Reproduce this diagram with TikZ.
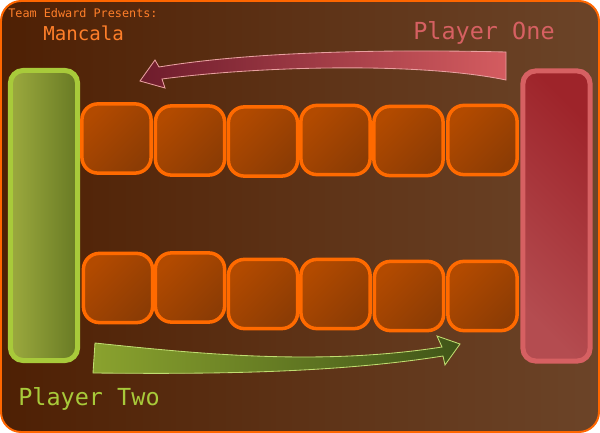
\documentclass[tikz,border=0pt]{standalone}
\usepackage{fontspec}
\newfontfamily\monofont{DejaVu Sans Mono}
\usepackage{tikz}
\usetikzlibrary{positioning}
\usetikzlibrary{calc}

\definecolor{boardleft}{RGB}{78,32,4}
\definecolor{boardright}{RGB}{108,68,40}
\definecolor{boardedge}{RGB}{255,102,0}
\definecolor{pitedge}{RGB}{255,106,0}
\definecolor{pitlight}{RGB}{178,74,0}
\definecolor{pitdark}{RGB}{140,60,4}
\definecolor{greenedge}{RGB}{168,202,58}
\definecolor{greenlight}{RGB}{156,170,62}
\definecolor{greendark}{RGB}{104,122,36}
\definecolor{rededge}{RGB}{214,96,98}
\definecolor{redlight}{RGB}{180,76,80}
\definecolor{reddark}{RGB}{158,36,42}
\definecolor{titleorange}{RGB}{255,127,42}
\definecolor{redarrowleft}{RGB}{110,28,44}
\definecolor{redarrowright}{RGB}{212,92,96}
\definecolor{redarrowedge}{RGB}{232,160,160}
\definecolor{greenarrowleft}{RGB}{138,162,46}
\definecolor{greenarrowright}{RGB}{64,85,24}
\definecolor{greenarrowedge}{RGB}{192,220,112}

\begin{document}
\begin{tikzpicture}
			[
				x = 0.025cm, y = -0.025cm,
				pit/.style = {rectangle, minimum width = 1.73cm, minimum height = 1.73cm, rounded corners = 0.4cm, line width = 2.5pt, draw = pitedge, left color = pitlight, right color = pitdark, shading angle = 45},
				store/.style = {rectangle, minimum width = 1.68cm, minimum height = 7.25cm, rounded corners = 0.32cm, line width = 3.6pt},
				label/.style = {inner sep = 0pt, anchor = base west, font = \monofont},
			]
			\useasboundingbox (0,0) rectangle (600,433);
			% board
			\draw[line width = 1.4pt, draw = boardedge, left color = boardleft, right color = boardright, rounded corners = 0.5cm] (1,1) rectangle (599,432);
			% stores
			\node (storetwo) [store, draw = greenedge, left color = greenlight, right color = greendark] at (44,215.5) {};
			\node (storeone) [store, draw = rededge, top color = reddark, bottom color = redlight, shading angle = -45] at (556.5,216) {};
			% pits
			\foreach \i/\x/\y in {1/116.5/138.5, 2/190/140.5, 3/263/141.5, 4/335.5/140, 5/408.5/141, 6/482.5/140}
				\node (top\i) [pit] at (\x,\y) {};
			\foreach \i/\x/\y in {1/118/288, 2/190/287.5, 3/263/294, 4/335.5/294, 5/409/296, 6/482.5/296}
				\node (bottom\i) [pit] at (\x,\y) {};
			% arrows
			\draw[line width = 0.6pt, draw = redarrowedge, left color = redarrowleft, right color = redarrowright]
				(506,52) .. controls (380,49) and (250,52) .. (159,67) -- (155,60) -- (140,81) -- (165,88) -- (162,79)
				.. controls (260,66) and (420,62) .. (506,80) -- cycle;
			\draw[line width = 0.6pt, draw = greenarrowedge, left color = greenarrowleft, right color = greenarrowright]
				(95,343) .. controls (200,354) and (320,366) .. (442,347) -- (437,336) -- (460,344) -- (445,365) -- (443,356)
				.. controls (330,374) and (200,374) .. (93,373) -- cycle;
			% texts
			\node (team) [label, text = titleorange, font = \monofont\fontsize{8.4}{10}\selectfont] at (8,18) {Team Edward Presents:};
			\node (title) [label, text = titleorange, font = \monofont\fontsize{13.6}{16}\selectfont] at (43,41) {Mancala};
			\node (playerone) [label, text = rededge, font = \monofont\fontsize{16.7}{20}\selectfont] at (413,40) {Player One};
			\node (playertwo) [label, text = greenedge, font = \monofont\fontsize{16.7}{20}\selectfont] at (18,405) {Player Two};
		\end{tikzpicture}
\end{document}
